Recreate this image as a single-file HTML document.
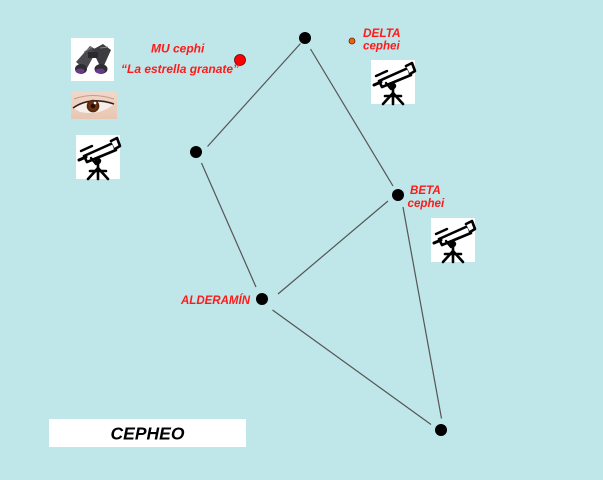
<!DOCTYPE html>
<html><head><meta charset="utf-8"><style>
html,body{margin:0;padding:0;background:#BFE6E8;}
svg{display:block;}
text{font-family:"Liberation Sans",Arial,sans-serif;font-weight:bold;font-style:italic;}
</style></head><body>
<svg width="603" height="480" viewBox="0 0 603 480" xmlns="http://www.w3.org/2000/svg">
<defs>
<g id="tel">
<rect x="0" y="0" width="44" height="44" fill="#fff"/>
<g stroke="#000" stroke-linecap="round" stroke-linejoin="round" fill="none">
<path d="M8 21 L37 8 L40 15 L11 27 Z" stroke-width="2.6" fill="#fff"/>
<path d="M35 6 L41 3 L44 11 L39 14" stroke-width="2.6" fill="#fff"/>
<line x1="3" y1="25" x2="10" y2="22" stroke-width="3"/>
<line x1="5" y1="16" x2="16" y2="11" stroke-width="2.4"/>
<line x1="22" y1="24" x2="22" y2="33" stroke-width="2.6"/>
<circle cx="22" cy="26" r="2.2" stroke-width="2"/>
<line x1="15" y1="23" x2="20" y2="29" stroke-width="2.4"/>
<line x1="22" y1="33" x2="12" y2="44" stroke-width="2.6"/>
<line x1="22" y1="33" x2="22" y2="44" stroke-width="2.6"/>
<line x1="22" y1="33" x2="32" y2="44" stroke-width="2.6"/>
<line x1="14" y1="36" x2="30" y2="36" stroke-width="2.6"/>
</g>
</g>
<radialGradient id="iris" cx="0.5" cy="0.5" r="0.5">
<stop offset="0" stop-color="#1a0a05"/><stop offset="0.35" stop-color="#2a1408"/><stop offset="0.45" stop-color="#7a3a14"/><stop offset="1" stop-color="#4a2208"/>
</radialGradient>
<linearGradient id="skin" x1="0" y1="0" x2="0" y2="1">
<stop offset="0" stop-color="#f0d8ca"/><stop offset="1" stop-color="#e8c6b2"/>
</linearGradient>
</defs>

<!-- connector lines -->
<g stroke="#555" stroke-width="1.2">
<line x1="300.5" y1="43.5" x2="207.5" y2="146.5"/>
<line x1="310.5" y1="49" x2="393" y2="186"/>
<line x1="201.5" y1="163" x2="256" y2="287"/>
<line x1="278" y1="294" x2="388" y2="201"/>
<line x1="272.5" y1="310" x2="431" y2="424.5"/>
<line x1="403" y1="207" x2="441.5" y2="418.5"/>
</g>

<!-- stars -->
<circle cx="305" cy="38" r="6" fill="#000"/>
<circle cx="196" cy="152" r="6" fill="#000"/>
<circle cx="262" cy="299" r="6" fill="#000"/>
<circle cx="398" cy="195" r="6" fill="#000"/>
<circle cx="441" cy="430" r="6" fill="#000"/>
<circle cx="240" cy="60" r="5.5" fill="#ff0000" stroke="#600" stroke-width="0.8"/>
<circle cx="352" cy="41" r="3" fill="#f06010" stroke="#5a2a10" stroke-width="0.8"/>

<!-- binoculars -->
<rect x="71" y="38" width="43" height="43" fill="#fff"/>
<g>
<path d="M76 62 L90 46 L97 50 L86 70 Z" fill="#4a4a4e"/>
<path d="M92 50 L103 44 L111 50 L102 70 Z" fill="#3c3c40"/>
<rect x="88" y="52" width="10" height="6" fill="#2a2a2e"/>
<ellipse cx="81" cy="69" rx="6" ry="5" fill="#2e2e32"/>
<ellipse cx="80" cy="71" rx="4.5" ry="2.5" fill="#6a3a8a"/>
<ellipse cx="101" cy="69" rx="6.5" ry="5" fill="#2e2e32"/>
<ellipse cx="100" cy="71" rx="5" ry="2.5" fill="#6a3a8a"/>
<path d="M84 52 L92 47" stroke="#888" stroke-width="1"/>
<path d="M100 48 L108 47" stroke="#888" stroke-width="1"/>
</g>

<!-- eye -->
<rect x="71" y="92" width="46" height="27" fill="url(#skin)"/>
<path d="M73 108 Q90 96 114 104 Q100 116 80 112 Z" fill="#f6eeea"/>
<path d="M73 108 Q90 96 114 104" stroke="#3a2018" stroke-width="1.6" fill="none"/>
<path d="M74 99 Q92 92 114 99" stroke="#c89a86" stroke-width="1" fill="none"/>
<circle cx="93" cy="106" r="6.3" fill="url(#iris)"/>
<circle cx="95" cy="103" r="1.3" fill="#fff"/>

<!-- telescopes -->
<use href="#tel" x="76" y="135"/>
<use href="#tel" x="371" y="60"/>
<use href="#tel" x="431" y="218"/>

<!-- labels -->
<g fill="#ff1a1a" font-size="12">
<text x="151" y="52.5">MU cephi</text>
<text x="121" y="73">“La estrella granate”</text>
<text x="363" y="37" font-size="11.8">DELTA</text>
<text x="363" y="49.5" font-size="11.6">cephei</text>
<text x="410" y="194" font-size="11.6">BETA</text>
<text x="407.5" y="207" font-size="11.6">cephei</text>
<text x="181" y="304" font-size="11.5">ALDERAMÍN</text>
</g>

<!-- title box -->
<rect x="49" y="419" width="197" height="28" fill="#fff"/>
<text x="147.5" y="439.5" font-size="17.5" fill="#000" text-anchor="middle">CEPHEO</text>
</svg>
</body></html>
